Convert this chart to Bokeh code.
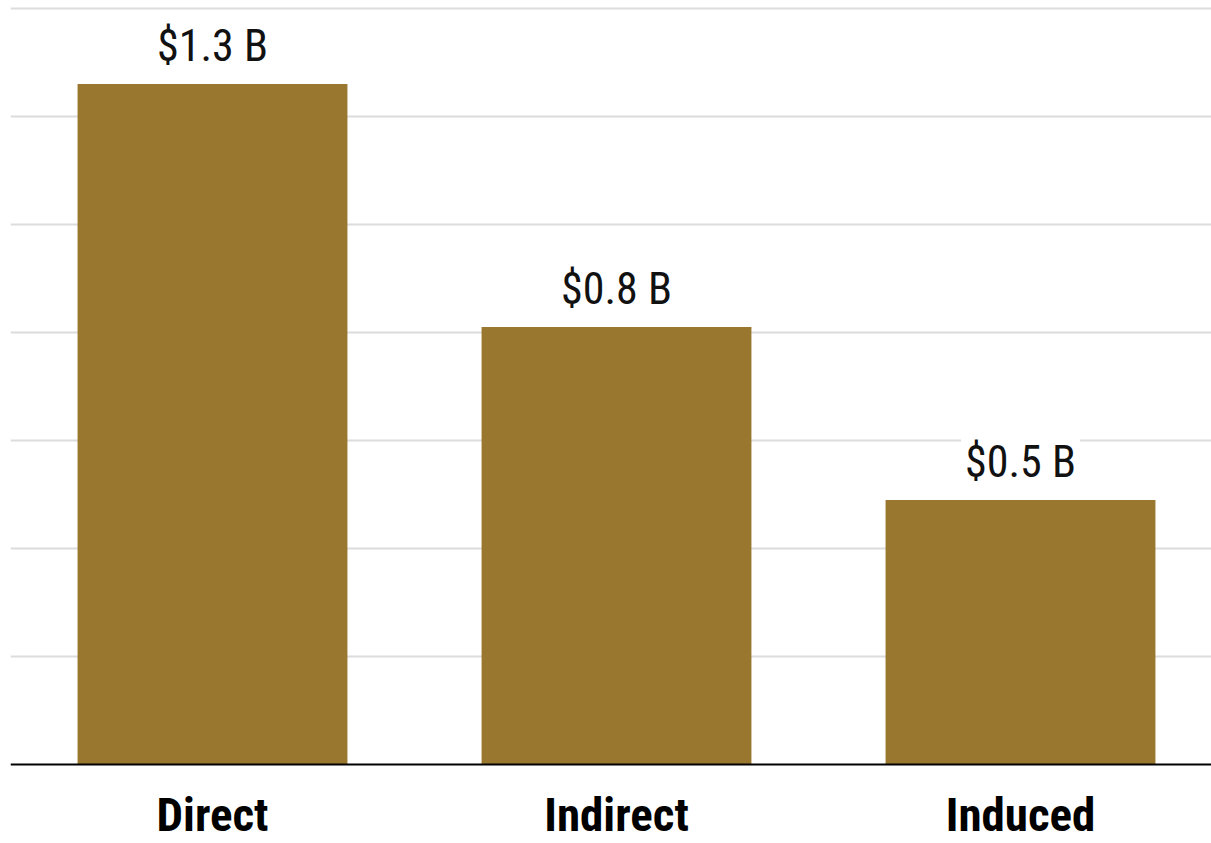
from bokeh.plotting import figure
from bokeh.models import Range1d, FixedTicker, ColumnDataSource, Span
from bokeh.embed import file_html
from bokeh.resources import INLINE
from bokeh.core.properties import value

categories = ["Direct", "Indirect", "Induced"]
values = [1.26, 0.81, 0.49]  # $ billions
value_labels = [f"${v:.1f} B" for v in values]
grid_ticks = [0.2, 0.4, 0.6, 0.8, 1.0, 1.2, 1.4]

BAR = "#99772F"
FONT = "Roboto Condensed"

W, H = 1211, 843
LEFT = 10
UNIT = 404.0          # pixels per category slot
TOP_PAD = 8           # pixels above the top gridline
PLOT_H = 756          # pixels from baseline to top gridline
BOTTOM_PAD = H - TOP_PAD - PLOT_H   # room for category labels
xpos = [i + 0.5 for i in range(len(categories))]
per_px = 1.4 / PLOT_H
ymax = 1.4 + TOP_PAD * per_px
ymin = -BOTTOM_PAD * per_px

src = ColumnDataSource(dict(x=xpos, top=values, label=value_labels,
                            base=[0.0] * len(categories), cat=categories))

p = figure(width=W, height=H, output_backend="svg", toolbar_location=None,
           x_range=Range1d(0, (W - LEFT) / UNIT), y_range=Range1d(ymin, ymax),
           min_border_left=LEFT, min_border_right=0, min_border_top=0,
           min_border_bottom=0)
p.outline_line_color = None
p.background_fill_color = "white"
p.border_fill_color = "white"
p.axis.visible = False
p.xgrid.visible = False
p.ygrid.ticker = FixedTicker(ticks=grid_ticks)
p.ygrid.grid_line_color = "#dcdcdc"
p.ygrid.grid_line_width = 2
p.ygrid.level = "underlay"

p.vbar(x="x", top="top", bottom="base", width=0.668, source=src,
       fill_color=BAR, line_color=None)

# baseline
p.add_layout(Span(location=0, dimension="width", line_color="black", line_width=2))

# value labels
p.text(x="x", y="top", text="label", source=src,
       text_font=value(FONT), text_font_size="44px", text_color="#111111",
       text_align="center", text_baseline="bottom", y_offset=-8,
       background_fill_color="white", padding=4)

# category labels
p.text(x="x", y="base", text="cat", source=src,
       text_font=value(FONT), text_font_size="47px", text_font_style="bold",
       text_color="black", text_align="center", text_baseline="bottom",
       y_offset=77)

open("out.html", "w").write(file_html(p, INLINE))
